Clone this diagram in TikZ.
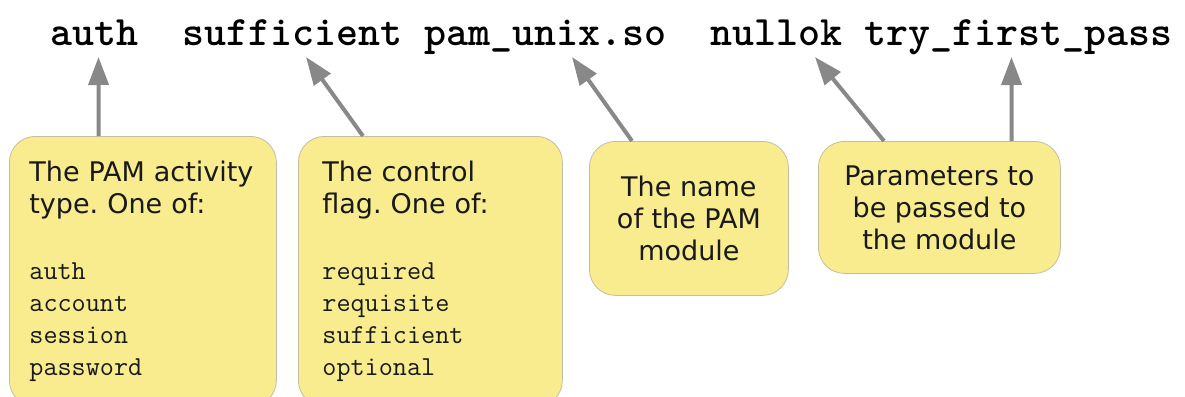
\documentclass[tikz,border=0pt]{standalone}
\usepackage{fontspec}
\setmainfont{DejaVu Sans}
\usetikzlibrary{arrows.meta}
\definecolor{notefill}{RGB}{248,236,142}
\definecolor{noteedge}{RGB}{196,190,160}
\definecolor{pointer}{RGB}{136,136,136}
\definecolor{ink}{RGB}{25,25,25}
\newcommand\listitem[1]{{\ttfamily\addfontfeature{FakeBold=0.8}\fontsize{27.4}{32}\selectfont #1}}

\begin{document}
\frenchspacing
\begin{tikzpicture}[x=1pt,y=-1pt,
  note/.style={draw=noteedge, line width=0.8pt, fill=notefill,
    rounded corners=26pt, anchor=north west, text=ink,
    font=\fontsize{27}{32}\selectfont, inner ysep=0pt},
  word/.style={anchor=base west, inner sep=0pt, text=black,
    font=\ttfamily\bfseries\fontsize{41.9}{44}\selectfont},
  pointer/.style={draw=pointer, line width=4pt,
    -{Triangle[length=28pt,width=20pt]}}]
\useasboundingbox (0,0) rectangle (1185,396);
\clip (0,0) rectangle (1185,396);

% the configuration line
\node[word] (w1) at (50.5,46) {auth};
\node[word] (w2) at (182.5,46) {sufficient};
\node[word] (w3) at (424.5,46) {pam\_unix.so};
\node[word] (w4) at (710.5,46) {nullok};
\node[word] (w5) at (864.5,46) {try\_first\_pass};

% explanatory notes
\node[note, minimum width=267, minimum height=270, inner xsep=20pt,
  text width=227pt, align=left] (n1) at (9,136)
  {The PAM activity\\ type. One of:\\[34pt]
   \listitem{auth}\\ \listitem{account}\\ \listitem{session}\\ \listitem{password}};
\node[note, minimum width=264, minimum height=270, inner xsep=24pt,
  text width=216pt, align=left] (n2) at (298,136)
  {The control\\ flag. One of:\\[34pt]
   \listitem{required}\\ \listitem{requisite}\\ \listitem{sufficient}\\ \listitem{optional}};
\node[note, minimum width=199, minimum height=154, align=center] (n3) at (589,141)
  {The name\\ of the PAM\\ module};
\node[note, minimum width=242, minimum height=132, align=center] (n4) at (818,141)
  {Parameters to\\ be passed to\\ the module};

% pointers from each note to its field
\draw[pointer] ([xshift=89.7pt]n1.north west) -- ([xshift=48pt,yshift=-11pt]w1.base west);
\draw[pointer] ([xshift=65pt]n2.north west) -- ([xshift=123.5pt,yshift=-11pt]w2.base west);
\draw[pointer] ([xshift=43pt]n3.north west) -- ([xshift=147.5pt,yshift=-11pt]w3.base west);
\draw[pointer] ([xshift=66pt]n4.north west) -- ([xshift=104.5pt,yshift=-11pt]w4.base west);
\draw[pointer] ([xshift=193.6pt]n4.north west) -- ([xshift=147pt,yshift=-11pt]w5.base west);
\end{tikzpicture}
\end{document}
